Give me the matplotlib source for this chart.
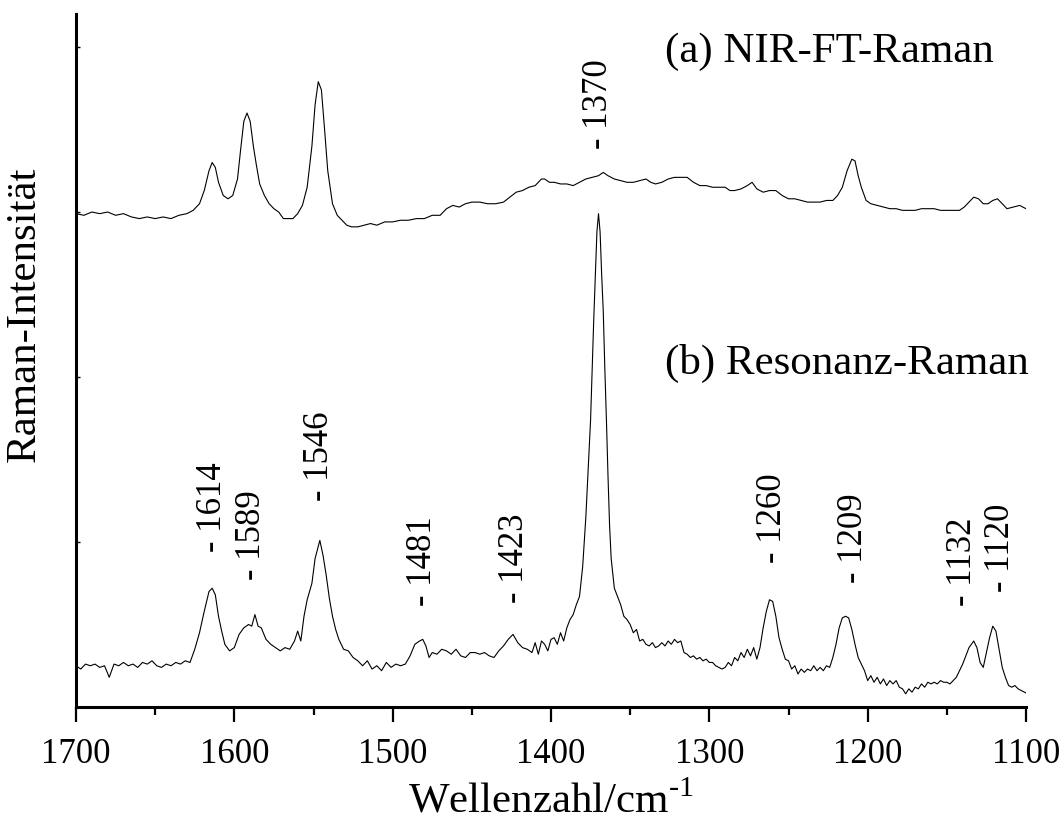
import matplotlib
matplotlib.use("Agg")
import matplotlib.pyplot as plt
from matplotlib.ticker import MultipleLocator
import numpy as np

plt.rcParams['font.family'] = ['Liberation Serif', 'DejaVu Serif']
plt.rcParams['mathtext.fontset'] = 'custom'
plt.rcParams['mathtext.rm'] = 'Liberation Serif'

# (a) NIR-FT-Raman, offset spectrum
wn_a = [1700, 1695, 1690, 1685, 1680, 1675, 1670, 1665, 1660, 1655, 1650, 1645, 1640,
        1635, 1630, 1626, 1622, 1619, 1616, 1614, 1612, 1610, 1607, 1604, 1601, 1598,
        1596, 1594, 1592, 1590, 1588, 1586, 1584, 1581, 1578, 1575, 1572, 1569, 1566,
        1563, 1560, 1557, 1554, 1551, 1549, 1547, 1545, 1543, 1541, 1538, 1535, 1532,
        1529, 1526, 1522, 1518, 1514, 1510, 1505, 1500, 1495, 1490, 1485, 1480, 1475,
        1470, 1466, 1462, 1458, 1454, 1450, 1445, 1440, 1435, 1430, 1426, 1422, 1418,
        1414, 1410, 1406, 1404, 1401, 1398, 1394, 1390, 1386, 1382, 1378, 1374, 1370,
        1367, 1364, 1360, 1356, 1352, 1348, 1344, 1340, 1337, 1334, 1330, 1326, 1322,
        1318, 1314, 1310, 1306, 1302, 1298, 1294, 1290, 1287, 1284, 1280, 1276, 1273,
        1270, 1266, 1262, 1258, 1254, 1250, 1246, 1242, 1238, 1234, 1230, 1226, 1222,
        1219, 1216, 1213, 1210, 1208, 1206, 1204, 1201, 1198, 1194, 1190, 1186, 1182,
        1178, 1174, 1170, 1166, 1162, 1158, 1154, 1150, 1146, 1142, 1139, 1136, 1133,
        1130, 1127, 1124, 1121, 1118, 1115, 1112, 1108, 1104, 1102, 1100]
int_a = [2.99, 2.98, 3.00, 2.99, 3.00, 2.98, 2.99, 2.97, 2.96, 2.97, 2.96, 2.97, 2.96,
         2.98, 2.99, 3.01, 3.05, 3.13, 3.25, 3.30, 3.27, 3.18, 3.10, 3.08, 3.10, 3.20,
         3.38, 3.55, 3.60, 3.55, 3.40, 3.28, 3.17, 3.10, 3.05, 3.02, 3.00, 2.96, 2.96,
         2.96, 2.99, 3.04, 3.15, 3.40, 3.65, 3.79, 3.74, 3.50, 3.25, 3.05, 2.98, 2.95,
         2.92, 2.91, 2.91, 2.92, 2.93, 2.92, 2.94, 2.94, 2.95, 2.95, 2.96, 2.96, 2.98,
         2.98, 3.02, 3.04, 3.03, 3.05, 3.06, 3.06, 3.05, 3.05, 3.06, 3.09, 3.12, 3.13,
         3.15, 3.16, 3.20, 3.20, 3.18, 3.18, 3.17, 3.17, 3.16, 3.18, 3.20, 3.21, 3.22,
         3.24, 3.22, 3.20, 3.19, 3.18, 3.18, 3.19, 3.20, 3.18, 3.17, 3.18, 3.20, 3.21,
         3.21, 3.21, 3.18, 3.16, 3.16, 3.15, 3.15, 3.15, 3.13, 3.13, 3.14, 3.16, 3.18,
         3.14, 3.12, 3.13, 3.13, 3.10, 3.08, 3.08, 3.07, 3.06, 3.06, 3.06, 3.07, 3.07,
         3.10, 3.15, 3.25, 3.32, 3.31, 3.22, 3.15, 3.07, 3.05, 3.04, 3.03, 3.02, 3.02,
         3.01, 3.01, 3.01, 3.02, 3.02, 3.02, 3.01, 3.01, 3.01, 3.01, 3.03, 3.06, 3.09,
         3.08, 3.05, 3.05, 3.07, 3.08, 3.05, 3.02, 3.03, 3.04, 3.03, 3.02]

# (b) Resonanz-Raman
wn_b = [1700, 1697, 1694, 1691, 1688, 1685, 1682, 1679, 1676, 1673, 1670, 1667, 1664,
        1661, 1658, 1655, 1652, 1649, 1646, 1643, 1640, 1637, 1634, 1631, 1628, 1625,
        1622, 1619, 1616, 1614, 1612, 1610, 1608, 1606, 1603, 1600, 1597, 1594, 1591,
        1589, 1587, 1585, 1583, 1580, 1577, 1574, 1571, 1568, 1565, 1562, 1560, 1558,
        1556, 1554, 1551, 1549, 1546, 1544, 1542, 1540, 1538, 1536, 1534, 1531, 1528,
        1525, 1522, 1519, 1516, 1513, 1510, 1507, 1504, 1501, 1498, 1495, 1492, 1489,
        1486, 1483, 1481, 1479, 1477, 1475, 1472, 1469, 1466, 1463, 1460, 1457, 1454,
        1451, 1448, 1445, 1442, 1439, 1436, 1433, 1430, 1427, 1424, 1421, 1418, 1415,
        1412, 1410, 1408, 1406, 1404, 1402, 1400, 1398, 1396, 1394, 1392, 1390, 1388,
        1386, 1384, 1382, 1380, 1378, 1376, 1375, 1374, 1373, 1372, 1371, 1370, 1369,
        1368, 1367, 1366, 1365, 1364, 1363, 1362, 1360, 1358, 1356, 1354, 1352, 1350,
        1348, 1346, 1344, 1342, 1340, 1338, 1336, 1334, 1332, 1330, 1328, 1326, 1324,
        1322, 1320, 1318, 1316, 1314, 1312, 1310, 1308, 1306, 1304, 1302, 1300, 1298,
        1296, 1294, 1292, 1290, 1288, 1286, 1284, 1282, 1280, 1278, 1276, 1274, 1272,
        1270, 1268, 1266, 1264, 1262, 1260, 1258, 1256, 1254, 1252, 1250, 1248, 1246,
        1244, 1242, 1240, 1238, 1236, 1234, 1232, 1230, 1228, 1226, 1224, 1222, 1220,
        1218, 1216, 1214, 1212, 1210, 1208, 1206, 1204, 1202, 1200, 1198, 1196, 1194,
        1192, 1190, 1188, 1186, 1184, 1182, 1180, 1178, 1176, 1174, 1172, 1170, 1168,
        1166, 1164, 1162, 1160, 1158, 1156, 1154, 1152, 1150, 1148, 1146, 1144, 1142,
        1140, 1138, 1136, 1133, 1131, 1129, 1127, 1125, 1123, 1121, 1119, 1117, 1115,
        1113, 1111, 1109, 1107, 1105, 1103, 1101, 1100]
int_b = [0.25, 0.23, 0.26, 0.25, 0.26, 0.24, 0.25, 0.18, 0.26, 0.25, 0.27, 0.25, 0.26,
         0.24, 0.27, 0.26, 0.28, 0.25, 0.24, 0.26, 0.25, 0.27, 0.26, 0.28, 0.27, 0.35,
         0.45, 0.58, 0.70, 0.72, 0.68, 0.55, 0.46, 0.38, 0.34, 0.36, 0.44, 0.48, 0.50,
         0.49, 0.56, 0.49, 0.48, 0.41, 0.38, 0.36, 0.34, 0.36, 0.35, 0.40, 0.46, 0.40,
         0.55, 0.65, 0.75, 0.90, 1.01, 0.92, 0.80, 0.66, 0.55, 0.47, 0.41, 0.35, 0.34,
         0.30, 0.28, 0.25, 0.28, 0.23, 0.25, 0.22, 0.27, 0.24, 0.26, 0.25, 0.26, 0.31,
         0.38, 0.40, 0.41, 0.37, 0.30, 0.33, 0.32, 0.35, 0.34, 0.32, 0.35, 0.31, 0.30,
         0.33, 0.33, 0.32, 0.33, 0.31, 0.30, 0.34, 0.37, 0.41, 0.44, 0.39, 0.36, 0.35,
         0.33, 0.39, 0.32, 0.40, 0.38, 0.34, 0.41, 0.42, 0.38, 0.45, 0.40, 0.48, 0.53,
         0.56, 0.62, 0.67, 0.85, 1.15, 1.55, 1.74, 2.05, 2.35, 2.62, 2.88, 2.99, 2.88,
         2.62, 2.40, 2.05, 1.74, 1.40, 1.10, 0.90, 0.72, 0.67, 0.62, 0.55, 0.53, 0.50,
         0.45, 0.47, 0.40, 0.41, 0.38, 0.37, 0.39, 0.36, 0.37, 0.39, 0.37, 0.40, 0.38,
         0.41, 0.39, 0.40, 0.33, 0.32, 0.30, 0.31, 0.29, 0.30, 0.28, 0.29, 0.27, 0.27,
         0.25, 0.24, 0.23, 0.24, 0.27, 0.25, 0.30, 0.28, 0.33, 0.30, 0.35, 0.31, 0.36,
         0.29, 0.36, 0.48, 0.58, 0.65, 0.64, 0.55, 0.42, 0.35, 0.29, 0.28, 0.23, 0.25,
         0.20, 0.23, 0.21, 0.23, 0.22, 0.25, 0.22, 0.24, 0.22, 0.25, 0.24, 0.30, 0.38,
         0.48, 0.54, 0.55, 0.54, 0.47, 0.38, 0.30, 0.26, 0.22, 0.16, 0.19, 0.15, 0.18,
         0.14, 0.17, 0.13, 0.16, 0.14, 0.16, 0.12, 0.11, 0.08, 0.11, 0.09, 0.12, 0.11,
         0.14, 0.12, 0.15, 0.14, 0.15, 0.14, 0.16, 0.15, 0.15, 0.14, 0.16, 0.18, 0.22,
         0.26, 0.31, 0.36, 0.40, 0.36, 0.27, 0.24, 0.33, 0.42, 0.49, 0.46, 0.35, 0.24,
         0.18, 0.13, 0.12, 0.13, 0.11, 0.10, 0.09, 0.085]

# peak labels
peak_labels = [1614, 1589, 1546, 1481, 1423, 1370, 1260, 1209, 1132, 1120]

# where each label sits (x in cm-1, y = foot of the text)
label_x = [1614, 1589, 1546, 1481, 1423, 1370, 1260, 1209, 1140, 1116]
label_y = [0.94, 0.77, 1.25, 0.61, 0.63, 3.38, 0.87, 0.75, 0.61, 0.70]

fig = plt.figure(figsize=(10.64, 8.25), dpi=100)
ax = fig.add_axes([76 / 1064, 118 / 825, 950 / 1064, 693 / 825])

ax.plot(wn_a, int_a, color='k', lw=0.8)
ax.plot(wn_b, int_b, color='k', lw=0.8)

for lab, x, y in zip(peak_labels, label_x, label_y):
    ax.text(x, y, "- %d" % lab, rotation=90, ha='center', va='bottom', fontsize=25)

ax.text(1328, 3.91, "(a) NIR-FT-Raman", fontsize=31, ha='left', va='baseline')
ax.text(1328, 2.02, "(b) Resonanz-Raman", fontsize=31, ha='left', va='baseline')

ax.set_xlim(1700, 1100)
ax.set_ylim(0, 4.2)
ax.xaxis.set_major_locator(MultipleLocator(100))
ax.xaxis.set_minor_locator(MultipleLocator(50))
ax.set_yticks([0, 1, 2, 3, 4])
ax.set_yticklabels([])

for side in ['top', 'right']:
    ax.spines[side].set_visible(False)
for side in ['left', 'bottom']:
    ax.spines[side].set_linewidth(2.2)

ax.tick_params(axis='x', which='major', direction='out', length=11, width=1.6,
               labelsize=25, pad=11)
ax.tick_params(axis='x', which='minor', direction='out', length=6, width=1.6)
ax.tick_params(axis='y', which='major', direction='in', length=3, width=1)

ax.set_xlabel(r"Wellenzahl/cm$^{\text{-1}}$", fontsize=31, labelpad=8)
ax.set_ylabel("Raman-Intensität", fontsize=31)
ax.yaxis.set_label_coords(-0.034, 0.567)

fig.savefig("out.png", dpi=100)
